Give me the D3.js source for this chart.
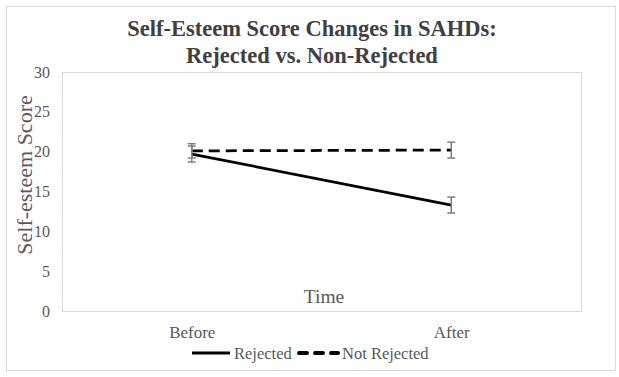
<!DOCTYPE html>
<html>
<head>
<meta charset="utf-8">
<script src="https://cdn.jsdelivr.net/npm/d3@7"></script>
<style>
  body { margin: 0; background: #fff; }
  text { font-family: "Liberation Serif", "Times New Roman", serif; }
</style>
</head>
<body>
<div id="chart"></div>
<script>
var times = ["Before", "After"];
var rejected = [19.7, 13.3];
var rejectedErr = [1.0, 1.0];
var notRejected = [20.1, 20.2];
var notRejectedErr = [0.9, 1.0];
var yTicks = [0, 5, 10, 15, 20, 25, 30];

var W = 619, H = 377;
var plotLeft = 62, plotRight = 581, plotTop = 72, plotBottom = 311;

var svg = d3.select("#chart").append("svg")
  .attr("width", W).attr("height", H);

// outer frame
svg.append("rect").attr("x", 6.5).attr("y", 6.5)
  .attr("width", 609).attr("height", 364)
  .attr("fill", "#fff").attr("stroke", "#d9d9d9").attr("stroke-width", 1);

var x = d3.scalePoint().domain(times).range([plotLeft, plotRight]).padding(0.5);
var y = d3.scaleLinear().domain([0, 30]).range([plotBottom, plotTop]);

// plot area frame
svg.append("rect").attr("x", plotLeft + 0.5).attr("y", plotTop + 0.5)
  .attr("width", plotRight - plotLeft).attr("height", plotBottom - plotTop)
  .attr("fill", "none").attr("stroke", "#d9d9d9").attr("stroke-width", 1);

// title
var title = svg.append("text").attr("text-anchor", "middle")
  .attr("font-weight", "bold").attr("font-size", 22.5).attr("fill", "#404040");
title.append("tspan").attr("x", 312).attr("y", 36).text("Self-Esteem Score Changes in SAHDs:");
title.append("tspan").attr("x", 312).attr("y", 63).text("Rejected vs. Non-Rejected");

// y axis
var yAxis = d3.axisLeft(y).tickValues(yTicks).tickSize(0).tickPadding(12);
var gy = svg.append("g").attr("transform", "translate(" + plotLeft + ",0)").call(yAxis);
gy.select(".domain").remove();
gy.selectAll("text").attr("font-size", 16).attr("fill", "#595959");

// x axis labels
var xAxis = d3.axisBottom(x).tickSize(0).tickPadding(15);
var gx = svg.append("g").attr("transform", "translate(0," + plotBottom + ")").call(xAxis);
gx.select(".domain").remove();
gx.selectAll("text").attr("font-size", 17).attr("fill", "#595959");

// axis titles
svg.append("text").attr("text-anchor", "middle")
  .attr("transform", "translate(32,175) rotate(-90)")
  .attr("font-size", 22).attr("fill", "#595959").text("Self-esteem Score");
svg.append("text").attr("x", 324).attr("y", 303).attr("text-anchor", "middle")
  .attr("font-size", 19.5).attr("fill", "#595959").text("Time");

var series = [
  { name: "Rejected", values: rejected, err: rejectedErr, dash: null },
  { name: "Not Rejected", values: notRejected, err: notRejectedErr, dash: "11,6" }
];

var line = d3.line().x(function(d, i) { return x(times[i]); }).y(function(d) { return y(d); });

series.forEach(function(s) {
  svg.append("path").datum(s.values)
    .attr("d", line).attr("fill", "none").attr("stroke", "#000")
    .attr("stroke-width", 2.75).attr("stroke-dasharray", s.dash);
});

// error bars
series.forEach(function(s) {
  var g = svg.append("g").attr("stroke", "#7f7f7f").attr("stroke-width", 1.5);
  s.values.forEach(function(v, i) {
    var cx = x(times[i]);
    g.append("line").attr("x1", cx).attr("x2", cx)
      .attr("y1", y(v - s.err[i])).attr("y2", y(v + s.err[i]));
    [v - s.err[i], v + s.err[i]].forEach(function(e) {
      g.append("line").attr("x1", cx - 4).attr("x2", cx + 4)
        .attr("y1", y(e)).attr("y2", y(e));
    });
  });
});

// legend
var lg = svg.append("g");
lg.append("line").attr("x1", 192).attr("x2", 230).attr("y1", 353).attr("y2", 353)
  .attr("stroke", "#000").attr("stroke-width", 3);
lg.append("text").attr("x", 234).attr("y", 359).attr("font-size", 16.5)
  .attr("fill", "#595959").text(series[0].name);
lg.append("line").attr("x1", 299).attr("x2", 338).attr("y1", 353).attr("y2", 353)
  .attr("stroke", "#000").attr("stroke-width", 4).attr("stroke-linecap", "round")
  .attr("stroke-dasharray", "8,8");
lg.append("text").attr("x", 342).attr("y", 359).attr("font-size", 16.5)
  .attr("fill", "#595959").text(series[1].name);
</script>
</body>
</html>
